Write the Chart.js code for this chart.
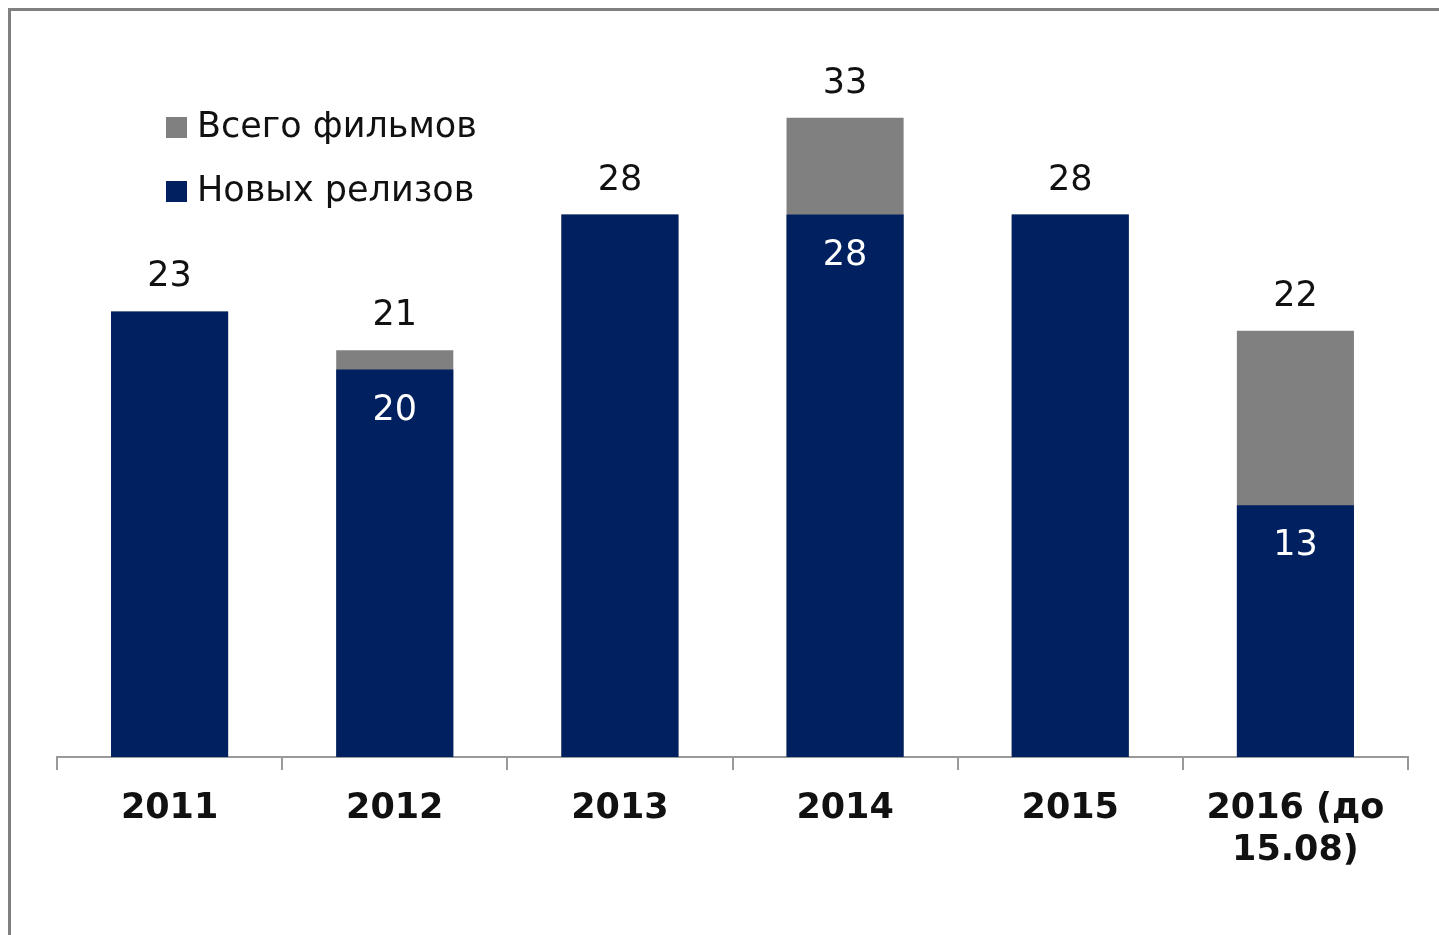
<!DOCTYPE html>
<html>
<head>
<meta charset="utf-8">
<script src="https://cdn.jsdelivr.net/npm/chart.js@4"></script>
<style>
    body { margin: 0; background: #fff; overflow: hidden; }
    #frame {
        position: absolute; left: 8px; top: 8px; width: 1440px; height: 940px;
        border-left: 3px solid #808080; border-top: 3px solid #808080;
    }
    #wrap { position: absolute; left: 0; top: 0; width: 1439px; height: 935px; }
    #legend {
        position: absolute; left: 166px; top: 99px;
        font-family: "DejaVu Sans", Verdana, sans-serif; font-size: 35px; color: #111;
    }
    .item { height: 64px; line-height: 52px; white-space: nowrap; }
    .box { display: inline-block; width: 21px; height: 21px; margin-right: 10px; vertical-align: -1px; }
</style>
</head>
<body>
<div id="frame"></div>
<div id="wrap"><canvas id="filmsChart"></canvas></div>
<div id="legend"></div>
<script>
const years = ['2011', '2012', '2013', '2014', '2015', ['2016 (до', '15.08)']];
const totalFilms = [23, 21, 28, 33, 28, 22];
const newReleases = [23, 20, 28, 28, 28, 13];

const greyColor = '#808080';
const navyColor = '#002060';
const fontFamily = '"DejaVu Sans", Verdana, sans-serif';

// value labels: total above the bar, new releases inside (only when different)
const valueLabels = {
    id: 'valueLabels',
    afterDatasetsDraw(chart) {
        const ctx = chart.ctx;
        const totalMeta = chart.getDatasetMeta(0);
        const newMeta = chart.getDatasetMeta(1);
        ctx.save();
        ctx.font = '35px ' + fontFamily;
        ctx.textAlign = 'center';
        ctx.textBaseline = 'alphabetic';
        totalMeta.data.forEach((bar, i) => {
            ctx.fillStyle = '#111';
            ctx.fillText(totalFilms[i], bar.x, bar.y - 25);
            if (newReleases[i] !== totalFilms[i]) {
                const nb = newMeta.data[i];
                ctx.fillStyle = '#fff';
                ctx.fillText(newReleases[i], nb.x, nb.y + 50);
            }
        });
        ctx.restore();
    }
};

const ctx = document.getElementById('filmsChart').getContext('2d');
const chart = new Chart(ctx, {
    type: 'bar',
    data: {
        labels: years,
        datasets: [{
            label: 'Всего фильмов',
            data: totalFilms,
            backgroundColor: greyColor,
            order: 2
        }, {
            label: 'Новых релизов',
            data: newReleases,
            backgroundColor: navyColor,
            order: 1
        }]
    },
    options: {
        responsive: true,
        maintainAspectRatio: false,
        animation: false,
        layout: {
            padding: { left: 57, right: 31, top: 79, bottom: 0 }
        },
        datasets: {
            bar: { categoryPercentage: 1, barPercentage: 0.52 }
        },
        scales: {
            x: {
                stacked: true,
                afterFit: scale => { scale.height = 178; },
                border: { color: '#999', width: 2 },
                grid: {
                    drawOnChartArea: false,
                    color: '#999',
                    lineWidth: 2,
                    tickLength: 13
                },
                ticks: {
                    color: '#111',
                    padding: 18,
                    font: { family: fontFamily, size: 35, weight: 'bold', lineHeight: 1.2 }
                }
            },
            y: {
                stacked: false,
                display: false,
                min: 0,
                max: 35
            }
        },
        plugins: {
            legend: { display: false },
            tooltip: { enabled: false }
        }
    },
    plugins: [valueLabels]
});

// legend built from the datasets
const legendEl = document.getElementById('legend');
chart.data.datasets.forEach(ds => {
    const item = document.createElement('div');
    item.className = 'item';
    item.innerHTML = '<span class="box" style="background:' + ds.backgroundColor + '"></span>' + ds.label;
    legendEl.appendChild(item);
});
</script>
</body>
</html>
